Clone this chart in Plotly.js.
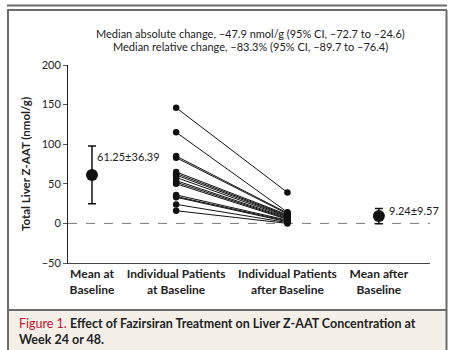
<!DOCTYPE html>
<html>
<head>
<meta charset="utf-8">
<script src="https://cdn.plot.ly/plotly-3.0.1.min.js"></script>
<style>html,body{margin:0;padding:0;background:#fff;}#chart{width:456px;height:350px;}</style>
</head>
<body>
<div id="chart"></div>
<script>
// ---- data ----
var categories = ["Mean at<br>Baseline", "Individual Patients<br>at Baseline", "Individual Patients<br>after Baseline", "Mean after<br>Baseline"];
var baselineValues = [146, 115, 85, 83, 65, 63, 61, 58, 54, 52, 50, 36, 34, 33, 24, 16];
var afterValues    = [39, 14, 13, 12, 11, 10, 9, 8, 7, 6, 5, 4, 3, 2, 1, 0];
var meanBaseline = 61.25, sdBaseline = 36.39;
var meanAfter = 9.24, sdAfter = 9.57;
var yTicks = [-50, 0, 50, 100, 150, 200];
var subtitleLines = ["Median absolute change, \u201347.9 nmol/g (95% CI, \u201372.7 to \u201324.6)",
                     "Median relative change, \u201383.3% (95% CI, \u201389.7 to \u201376.4)"];

// ---- layout helpers ----
var W = 456, H = 350;
var catPos = [0, 0.93, 2.16, 3.17];
function px(x){ return x / W; }
function py(y){ return 1 - y / H; }
var FONT = "Lato, 'Open Sans', sans-serif";

var traces = [];
// individual patient lines
for (var i = 0; i < baselineValues.length; i++) {
  traces.push({
    x: [catPos[1], catPos[2]],
    y: [baselineValues[i], afterValues[i]],
    mode: "lines+markers",
    line: {color: "#111", width: 1},
    marker: {color: "#111", size: 6.5},
    hoverinfo: "skip",
    showlegend: false,
    cliponaxis: false
  });
}
// means with error bars
traces.push({
  x: [catPos[0], catPos[3]],
  y: [meanBaseline, meanAfter],
  mode: "markers",
  marker: {color: "#111", size: 12},
  error_y: {type: "data", array: [sdBaseline, sdAfter], visible: true, color: "#111", thickness: 1.5, width: 4},
  showlegend: false,
  hoverinfo: "skip",
  cliponaxis: false
});

var layout = {
  width: W, height: H,
  margin: {l: 0, r: 0, t: 0, b: 0},
  paper_bgcolor: "#fff",
  plot_bgcolor: "rgba(0,0,0,0)",
  showlegend: false,
  font: {family: FONT, color: "#222", size: 11},
  xaxis: {
    domain: [px(68), px(430)],
    range: [-0.265, 3.735],
    tickvals: catPos,
    ticktext: categories.map(function(c){ return "<b>" + c + "</b>"; }),
    ticks: "",
    showgrid: false,
    zeroline: false,
    showline: true,
    linecolor: "#444",
    linewidth: 1,
    tickfont: {family: FONT, size: 12, color: "#222"}
  },
  yaxis: {
    domain: [py(263), py(65)],
    range: [-50, 200],
    tickvals: yTicks,
    ticktext: yTicks.map(function(v){ return v < 0 ? "\u2212" + Math.abs(v) : String(v); }),
    ticks: "outside",
    ticklen: 4,
    tickcolor: "#555",
    showgrid: false,
    zeroline: false,
    showline: true,
    linecolor: "#222",
    linewidth: 1,
    tickfont: {family: FONT, size: 11, color: "#222"},
    title: {text: "<b>Total Liver Z-AAT (nmol/g)</b>", font: {family: FONT, size: 11.5, color: "#222"}, standoff: 8}
  },
  shapes: [
    // caption background
    {type: "rect", xref: "paper", yref: "paper", x0: px(8), x1: px(447), y0: py(350), y1: py(310), fillcolor: "#f4f0e8", line: {width: 0}, layer: "below"},
    // top rule
    {type: "line", xref: "paper", yref: "paper", x0: px(7), x1: px(447), y0: py(5.5), y1: py(5.5), line: {color: "#6b6b6b", width: 2}},
    // box
    {type: "line", xref: "paper", yref: "paper", x0: px(7), x1: px(447), y0: py(10), y1: py(10), line: {color: "#6b6b6b", width: 2}},
    {type: "line", xref: "paper", yref: "paper", x0: px(8), x1: px(8), y0: py(10), y1: py(352), line: {color: "#6b6b6b", width: 2}},
    {type: "line", xref: "paper", yref: "paper", x0: px(446.5), x1: px(446.5), y0: py(10), y1: py(352), line: {color: "#6b6b6b", width: 2}},
    {type: "line", xref: "paper", yref: "paper", x0: px(8), x1: px(447), y0: py(310), y1: py(310), line: {color: "#6b6b6b", width: 2}},
    // zero dashed line
    {type: "line", xref: "x domain", yref: "y", x0: 0, x1: 1, y0: 0, y1: 0, line: {color: "#777", width: 1, dash: "dash"}, layer: "below"}
  ],
  annotations: [
    {xref: "paper", yref: "paper", x: px(250), y: py(33), text: subtitleLines[0], showarrow: false, xanchor: "center", yanchor: "middle", font: {family: FONT, size: 11, color: "#222"}},
    {xref: "paper", yref: "paper", x: px(250), y: py(46), text: subtitleLines[1], showarrow: false, xanchor: "center", yanchor: "middle", font: {family: FONT, size: 11, color: "#222"}},
    {xref: "x", yref: "y", x: catPos[0], y: 85, text: meanBaseline.toFixed(2) + "\u00b1" + sdBaseline.toFixed(2), showarrow: false, xanchor: "left", yanchor: "middle", xshift: 3, font: {family: FONT, size: 11, color: "#222"}},
    {xref: "x", yref: "y", x: catPos[3], y: 16, text: meanAfter.toFixed(2) + "\u00b1" + sdAfter.toFixed(2), showarrow: false, xanchor: "left", yanchor: "middle", xshift: 8, font: {family: FONT, size: 11, color: "#222"}},
    {xref: "paper", yref: "paper", x: px(17), y: py(323), text: "<span style='color:#c8102e'>Figure 1.</span> <b>Effect of Fazirsiran Treatment on Liver Z-AAT Concentration at</b>", showarrow: false, xanchor: "left", yanchor: "middle", font: {family: FONT, size: 12.5, color: "#222"}},
    {xref: "paper", yref: "paper", x: px(17), y: py(339), text: "<b>Week 24 or 48.</b>", showarrow: false, xanchor: "left", yanchor: "middle", font: {family: FONT, size: 12.5, color: "#222"}}
  ]
};

Plotly.newPlot("chart", traces, layout, {displayModeBar: false, staticPlot: true});
</script>
</body>
</html>
